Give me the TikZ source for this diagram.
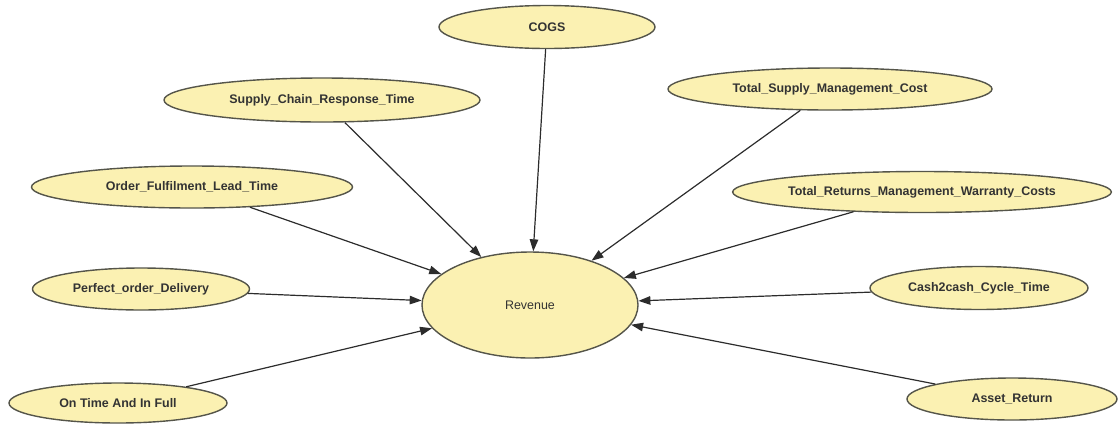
\documentclass[tikz,border=0pt]{standalone}
\usepackage{fontspec}
\setmainfont{Liberation Sans}
\usetikzlibrary{shapes.geometric,arrows.meta}
\definecolor{nodefill}{HTML}{FBF1B2}
\definecolor{nodeedge}{HTML}{55554A}
\definecolor{edgecol}{HTML}{2C2C2C}
\definecolor{txtcol}{HTML}{333333}
\begin{document}
\begin{tikzpicture}[x=1bp,y=-1bp,
  var/.style={ellipse, draw=nodeedge, line width=1.4bp, fill=nodefill, inner sep=0pt,
    text=txtcol, font=\fontsize{12.5}{14}\selectfont\bfseries},
  link/.style={draw=edgecol, line width=1.2bp, -{Triangle[length=12bp,width=8.5bp]}}]
\useasboundingbox (0,0) rectangle (1118,425);
\node[var, minimum width=216bp, minimum height=106bp, font=\fontsize{12.5}{14}\selectfont] (rev) at (530,305) {Revenue};
\node[var, minimum width=216bp, minimum height=43bp] (cogs) at (547,27) {COGS};
\node[var, minimum width=316bp, minimum height=44bp] (scrt) at (322,100) {Supply\_Chain\_Response\_Time};
\node[var, minimum width=324bp, minimum height=42bp] (tsmc) at (830,89) {Total\_Supply\_Management\_Cost};
\node[var, minimum width=321bp, minimum height=42bp] (oflt) at (192,187) {Order\_Fulfilment\_Lead\_Time};
\node[var, minimum width=325bp, minimum height=41bp] (trmw) at (922,192) {Total\_Returns\_Management\_Warranty\_Costs};
\node[var, minimum width=217bp, minimum height=42bp] (pod) at (141,289) {Perfect\_order\_Delivery};
\node[var, minimum width=218bp, minimum height=43bp] (c2c) at (979,288) {Cash2cash\_Cycle\_Time};
\node[var, minimum width=218bp, minimum height=40bp] (otif) at (118,403) {On Time And In Full};
\node[var, minimum width=210bp, minimum height=42bp] (ar) at (1012,399) {Asset\_Return};
\foreach \s in {cogs,scrt,tsmc,oflt,trmw,pod,c2c,otif,ar}
  \draw[link] (\s) -- (rev);
\end{tikzpicture}
\end{document}
